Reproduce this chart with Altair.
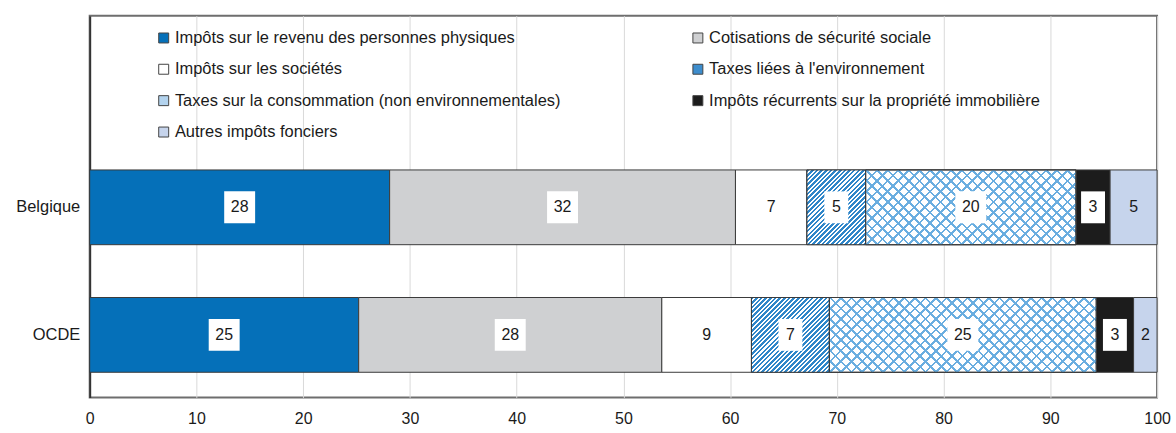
import math
import altair as alt
import pandas as pd

# ---------------- data ----------------
categories = [
    "Impôts sur le revenu des personnes physiques",
    "Cotisations de sécurité sociale",
    "Impôts sur les sociétés",
    "Taxes liées à l'environnement",
    "Taxes sur la consommation (non environnementales)",
    "Impôts récurrents sur la propriété immobilière",
    "Autres impôts fonciers",
]
rows = ["Belgique", "OCDE"]
belgique = [28.1, 32.4, 6.7, 5.5, 19.7, 3.2, 4.4]
ocde = [25.2, 28.4, 8.4, 7.3, 25.0, 3.5, 2.2]
labels_belgique = ["28", "32", "7", "5", "20", "3", "5"]
labels_ocde = ["25", "28", "9", "7", "25", "3", "2"]
x_ticks = [0, 10, 20, 30, 40, 50, 60, 70, 80, 90, 100]

# ---------------- style ----------------
FONT = "Liberation Sans, Arial, sans-serif"
TXT = "#1a1a1a"
colors = ["#0570b9", "#cfd0d2", "#ffffff", "#3d8dcd", "#b3d3ee", "#1c1c1c", "#c6d4ec"]
STRIPE_BLUE = "#2f86c9"
CROSS_BLUE = "#6aaee0"
BAR_STROKE = "#3a3a3a"

PLOT_W, PLOT_H = 1071, 383
PI, PO, ALIGN = 0.414, 0.703, 0.86
STEP = PLOT_H / (len(rows) - PI + 2 * PO)
BAR_H = STEP * (1 - PI)
PX_PER_UNIT = PLOT_W / 100.0

# legend fills column by column (4 rows): order entries so that rows read
# left-to-right as in the reference
legend_order = [0, 2, 4, 6, 1, 3, 5]
legend_domain = [categories[i] for i in legend_order]
legend_range = [colors[i] for i in legend_order]

# ---------------- table ----------------
recs = []
for row, vals, labs in [("Belgique", belgique, labels_belgique), ("OCDE", ocde, labels_ocde)]:
    start = 0.0
    for cat, v, lab in zip(categories, vals, labs):
        recs.append({
            "row": row, "cat": cat, "x0": start, "x1": start + v, "mid": start + v / 2,
            "val": v, "label": lab, "nd": str(len(lab)),
            "box": cat != categories[6],
        })
        start += v
df = pd.DataFrame(recs)


def stripe_gradient(w, h, pitch, frac, on, off, direction):
    n = (w + h) / (pitch * math.sqrt(2))
    stops = []
    k = 0
    while k < n:
        for o, c in [(k / n, on), ((k + frac) / n, on), ((k + frac) / n, off), ((k + 1) / n, off)]:
            stops.append(alt.GradientStop(color=c, offset=min(o, 1.0)))
        k += 1
    gx = (w + h) * w / (w * w + h * h)
    gy = (w + h) * h / (w * w + h * h)
    if direction == "/":
        return alt.LinearGradient(gradient="linear", stops=stops, x1=0, y1=0, x2=gx, y2=gy)
    return alt.LinearGradient(gradient="linear", stops=stops, x1=0, y1=1, x2=gx, y2=1 - gy)


x_enc = alt.X(
    "x0:Q",
    scale=alt.Scale(domain=[0, 100], nice=False, zero=True),
    axis=alt.Axis(values=x_ticks, title=None, ticks=False, domain=False, grid=True,
                  gridColor="#d9d9d9", gridWidth=1, labelFontSize=16, labelFont=FONT,
                  labelColor=TXT, labelPadding=13, labelFlush=False),
)
y_enc = alt.Y(
    "row:N", sort=rows,
    scale=alt.Scale(domain=rows, paddingInner=PI, paddingOuter=PO, align=ALIGN),
    axis=alt.Axis(title=None, ticks=False, grid=False, domainColor="#333333", domainWidth=2,
                  labelFontSize=16.5, labelFont=FONT, labelColor=TXT, labelPadding=10),
)

base = alt.Chart(df)

bars = base.mark_bar(stroke=BAR_STROKE, strokeWidth=1).encode(
    x=x_enc, x2="x1:Q", y=y_enc,
    fill=alt.Fill(
        "cat:N",
        scale=alt.Scale(domain=legend_domain, range=legend_range),
        legend=alt.Legend(
            title=None, orient="none", legendX=66, legendY=14, columns=2,
            columnPadding=129, rowPadding=14.5, symbolType="square", symbolSize=100,
            symbolStrokeColor="#444444", symbolStrokeWidth=1, labelFontSize=16.5,
            labelFont=FONT, labelColor=TXT, labelOffset=3, labelLimit=600, padding=0,
        ),
    ),
)

layers = [bars]
for row, vals in [("Belgique", belgique), ("OCDE", ocde)]:
    for ci, specs in [(3, [("/", 3.3, 0.55, STRIPE_BLUE, "#ffffff")]),
                      (4, [("\\", 7.5, 0.25, CROSS_BLUE, "#ffffff"),
                           ("/", 7.5, 0.25, CROSS_BLUE, "rgba(255,255,255,0)")])]:
        w = vals[ci] * PX_PER_UNIT
        for direction, pitch, frac, on, off in specs:
            grad = stripe_gradient(w, BAR_H, pitch, frac, on, off, direction)
            layers.append(
                base.transform_filter(
                    (alt.datum.row == row) & (alt.datum.cat == categories[ci])
                ).mark_bar(fill=grad, stroke=BAR_STROKE, strokeWidth=1).encode(
                    x=x_enc, x2="x1:Q", y=y_enc
                )
            )

box_paths = ["M-0.75,-1L0.75,-1L0.75,1L-0.75,1Z", "M-0.97,-1L0.97,-1L0.97,1L-0.97,1Z"]
boxes = base.transform_filter(alt.datum.box).mark_point(
    filled=True, color="#ffffff", opacity=1, size=1024, strokeWidth=0
).encode(
    x=alt.X("mid:Q", scale=alt.Scale(domain=[0, 100], nice=False)),
    y=y_enc,
    shape=alt.Shape("nd:N", scale=alt.Scale(domain=["1", "2"], range=box_paths), legend=None),
)
texts = base.mark_text(fontSize=16, font=FONT, color=TXT, baseline="middle", align="center").encode(
    x=alt.X("mid:Q", scale=alt.Scale(domain=[0, 100], nice=False)),
    y=y_enc,
    text="label:N",
)
layers += [boxes, texts]

chart = alt.layer(*layers).properties(
    width=PLOT_W, height=PLOT_H,
    padding={"left": 15, "top": 15, "right": 5, "bottom": 5},
    background="white",
).configure(font=FONT).configure_view(stroke="#6e6e6e", strokeWidth=2)

chart.save("out.html", embed_options={"renderer": "svg", "actions": False})
